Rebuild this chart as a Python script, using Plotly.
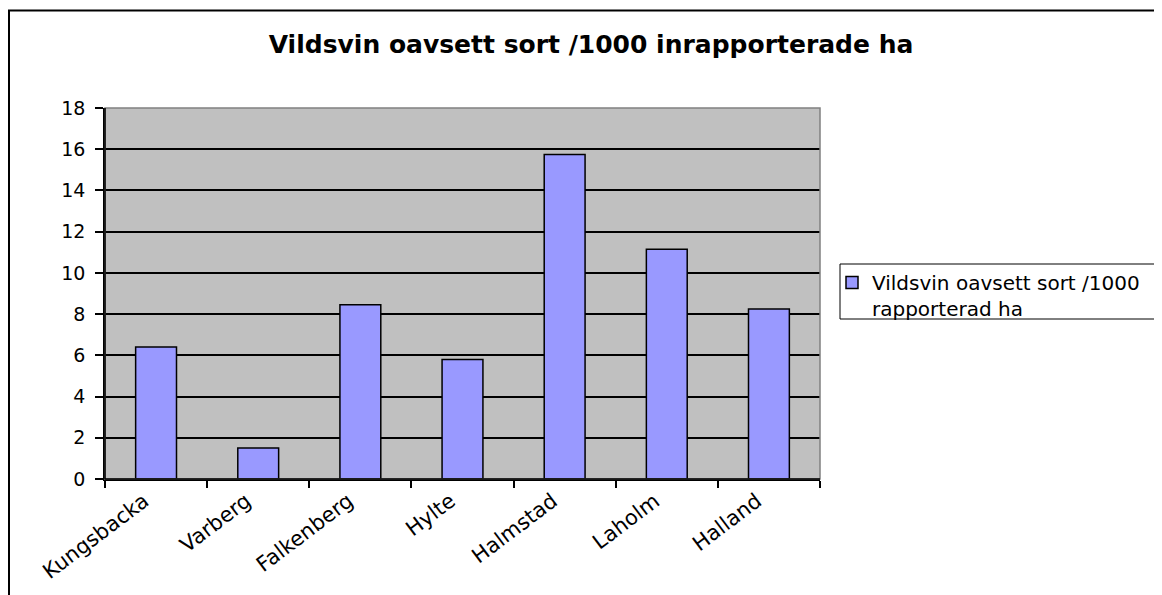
import plotly.graph_objects as go

kommuner = ["Kungsbacka", "Varberg", "Falkenberg", "Hylte", "Halmstad", "Laholm", "Halland"]
vildsvin = [6.4, 1.5, 8.45, 5.8, 15.75, 11.15, 8.25]
y_ticks = [0, 2, 4, 6, 8, 10, 12, 14, 16, 18]
serie_namn = "Vildsvin oavsett sort /1000<br>rapporterad ha"
rubrik = "Vildsvin oavsett sort /1000 inrapporterade ha"

# sidan har 8 px marginal i body, allt nedan i figurens egna pixlar
W, H = 1162, 595
L, R, T, B = 97, 812, 100, 471   # diagramytan
pw, ph = R - L, B - T

def px_x(x):
    return (x - L) / pw

def px_y(y):
    return 1 - (y - T) / ph

bar = go.Bar(
    x=kommuner,
    y=vildsvin,
    name=serie_namn,
    width=0.4,
    marker=dict(color="#9999FF", line=dict(color="black", width=1.5)),
    showlegend=True,
)
fig = go.Figure(data=bar)

fig.update_layout(
    width=W, height=H,
    margin=dict(l=L, r=W - R, t=T, b=H - B, autoexpand=False),
    paper_bgcolor="white",
    plot_bgcolor="#C0C0C0",
    font=dict(family="DejaVu Sans", size=19, color="black"),
    title=dict(text=rubrik, x=583 / W, xref="container", xanchor="center",
               y=1 - 36 / H, yref="container", yanchor="middle",
               font=dict(family="DejaVu Sans", size=25, weight="bold", color="black")),
    legend=dict(x=px_x(824), y=px_y(255), xanchor="left", yanchor="top",
                bgcolor="rgba(0,0,0,0)", borderwidth=0, valign="top",
                font=dict(family="DejaVu Sans", size=20, color="black")),
    bargap=0.6,
)

fig.update_xaxes(range=[-0.5, 6.5], tickson="boundaries", ticks="outside", ticklen=7,
                 tickcolor="black", tickwidth=1.5, showgrid=False,
                 showline=True, linecolor="black", linewidth=1.5,
                 tickangle=-37, tickfont=dict(size=21), ticklabelshift=-12)
fig.update_yaxes(range=[0, 18], tickvals=y_ticks, ticks="outside", ticklen=8,
                 tickcolor="black", tickwidth=1.5,
                 showgrid=True, gridcolor="black", gridwidth=1.5,
                 showline=True, linecolor="black", linewidth=1.5, zeroline=False,
                 ticklabelstandoff=6)

# grå ram runt diagramytan (topp och höger)
fig.add_shape(type="rect", xref="paper", yref="paper", x0=0, x1=1, y0=0, y1=1,
              line=dict(color="#808080", width=1.5), layer="above")
fig.add_shape(type="line", xref="paper", yref="paper", x0=0, x1=0, y0=0, y1=1,
              line=dict(color="black", width=1.5), layer="above")
fig.add_shape(type="line", xref="paper", yref="paper", x0=0, x1=1, y0=0, y1=0,
              line=dict(color="black", width=1.5), layer="above")
# ram runt förklaringen
fig.add_shape(type="rect", xref="paper", yref="paper",
              x0=px_x(832), x1=px_x(W + 20), y0=px_y(311), y1=px_y(256),
              line=dict(color="black", width=1), layer="above")
# yttre ram runt hela diagrammet
fig.add_shape(type="rect", xref="paper", yref="paper",
              x0=px_x(1), x1=px_x(W + 20), y0=px_y(H + 20), y1=px_y(2.5),
              line=dict(color="black", width=2), layer="above")

fig.write_html("out.html")
